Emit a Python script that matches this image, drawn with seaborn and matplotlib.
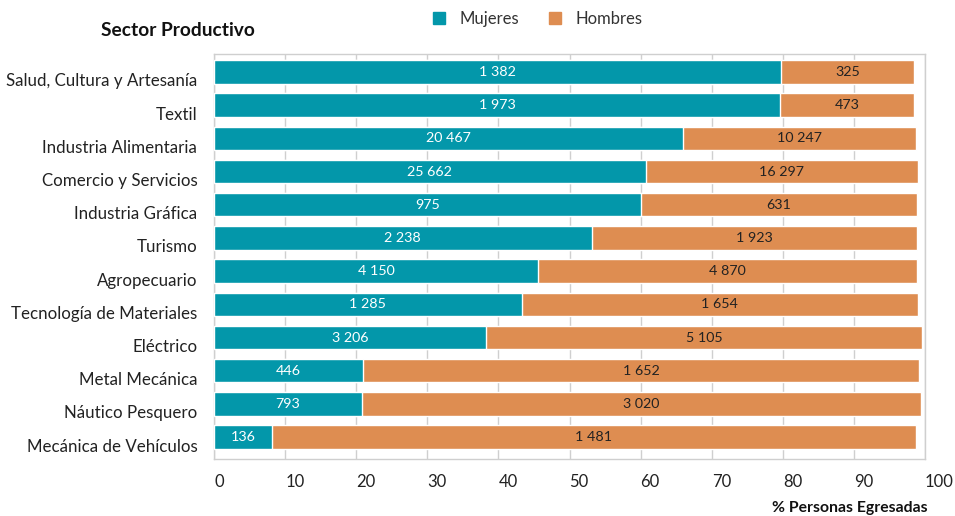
import matplotlib
matplotlib.use("Agg")
import matplotlib.pyplot as plt
import matplotlib.transforms as mtransforms
from matplotlib.patches import Patch
import seaborn as sns
import pandas as pd

# data
sectores = ["Salud, Cultura y Artesanía", "Textil", "Industria Alimentaria",
            "Comercio y Servicios", "Industria Gráfica", "Turismo", "Agropecuario",
            "Tecnología de Materiales", "Eléctrico", "Metal Mecánica",
            "Náutico Pesquero", "Mecánica de Vehículos"]
mujeres_pct = [79.8, 79.6, 65.9, 60.7, 60.0, 53.1, 45.6, 43.3, 38.3, 21.0, 20.8, 8.2]
hombres_pct = [18.7, 18.9, 32.8, 38.3, 38.9, 45.8, 53.3, 55.7, 61.3, 78.1, 78.6, 90.5]
mujeres_n = [1382, 1973, 20467, 25662, 975, 2238, 4150, 1285, 3206, 446, 793, 136]
hombres_n = [325, 473, 10247, 16297, 631, 1923, 4870, 1654, 5105, 1652, 3020, 1481]

TEAL = "#0397AA"
ORANGE = "#DE8D51"

df = pd.DataFrame({"sector": sectores, "mujeres": mujeres_pct, "hombres": hombres_pct})
df["total"] = df["mujeres"] + df["hombres"]

sns.set_style("white")
plt.rcParams["font.family"] = ["Lato", "DejaVu Sans"]

fig, ax = plt.subplots(figsize=(9.55, 5.16), dpi=100)
fig.subplots_adjust(left=214 / 955, right=925 / 955, top=1 - 54 / 516, bottom=1 - 459 / 516)

# stacked: total bar first, women on top
sns.barplot(data=df, x="total", y="sector", color=ORANGE, orient="h", width=0.71,
            saturation=1, ax=ax, zorder=2)
sns.barplot(data=df, x="mujeres", y="sector", color=TEAL, orient="h", width=0.71,
            saturation=1, ax=ax, zorder=3)

fmt = lambda n: f"{n:,}".replace(",", " ")
for i, row in df.iterrows():
    # labels of long segments sit around x=44 in the original
    xm = min(row["mujeres"] / 2, 44.3)
    ax.text(xm, i, fmt(mujeres_n[i]), ha="center", va="center", color="white",
            fontsize=10.3, zorder=4)
    xh = row["mujeres"] + row["hombres"] / 2
    ax.text(xh, i, fmt(hombres_n[i]), ha="center", va="center", color="#222222",
            fontsize=10.3, zorder=4)

ax.set_xlim(0, 100)
ax.set_ylim(11.66, -0.54)
ax.set_xticks(range(0, 101, 10))
ax.set_xlabel("")
ax.set_ylabel("")
ax.grid(axis="x", color="#cfcfcf", lw=1, zorder=0)
ax.set_axisbelow(True)
for s in ax.spines.values():
    s.set_color("#cfcfcf")
    s.set_linewidth(1)
ax.tick_params(axis="y", length=0, pad=12, labelsize=12.2, labelcolor="#222222")
ax.tick_params(axis="x", length=0, pad=11, labelsize=12, labelcolor="#222222")
for lab in ax.get_xticklabels():
    lab.set_horizontalalignment("left")
# sector names sit a bit below the bar centres in the original
shift = mtransforms.ScaledTranslation(0, -8 / 100, fig.dpi_scale_trans)
for lab in ax.get_yticklabels():
    lab.set_transform(lab.get_transform() + shift)

fig.text(101 / 955, 1 - 31 / 516, "Sector Productivo", fontsize=13.8, fontweight="bold",
         va="center", ha="left", color="#111111")
fig.text(928 / 955, 1 - 508 / 516, "% Personas Egresadas", fontsize=11.3, fontweight="bold",
         va="center", ha="right", color="#111111")

handles = [Patch(color=TEAL, label="Mujeres"), Patch(color=ORANGE, label="Hombres")]
fig.legend(handles=handles, loc="center", bbox_to_anchor=(538 / 955, 1 - 19 / 516), ncol=2,
           frameon=False, fontsize=12, handlelength=0.7, handleheight=0.7,
           columnspacing=1.8, handletextpad=0.9, labelcolor="#333333")

fig.savefig("out.png", dpi=100)
